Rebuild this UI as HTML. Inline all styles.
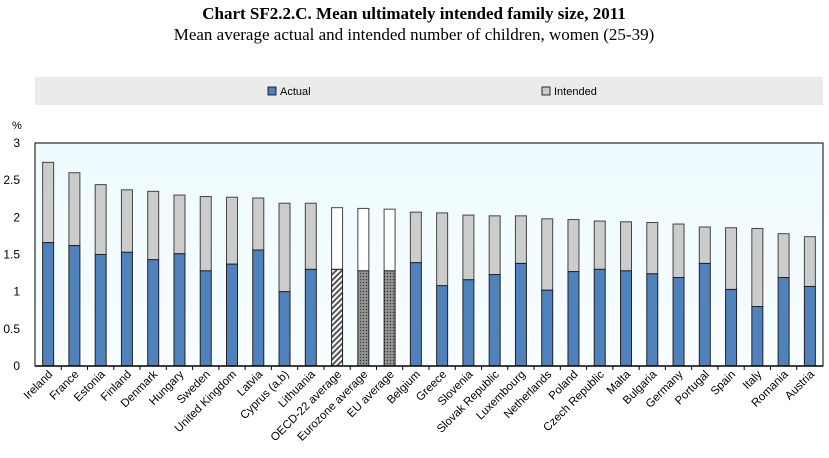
<!DOCTYPE html>
<html><head><meta charset="utf-8"><style>
body{margin:0;background:#fff;}
svg text{font-family:"Liberation Sans",Arial,sans-serif;}
</style></head><body>
<svg width="829" height="453" viewBox="0 0 829 453" xmlns="http://www.w3.org/2000/svg">
<defs>
<linearGradient id="bg" x1="0" y1="0" x2="0" y2="1"><stop offset="0" stop-color="#eefbff"/><stop offset="1" stop-color="#f8fdff"/></linearGradient>
<pattern id="hatch" width="4" height="4" patternUnits="userSpaceOnUse" patternTransform="rotate(45)"><rect width="4" height="4" fill="#fff"/><rect width="2" height="4" fill="#555"/></pattern>
<pattern id="dots" width="3" height="3" patternUnits="userSpaceOnUse"><rect width="3" height="3" fill="#888"/><rect width="1" height="1" fill="#333"/><rect x="1.5" y="1.5" width="1" height="1" fill="#bbb"/></pattern>
</defs>
<text x="414" y="19" text-anchor="middle" font-family="Liberation Serif,serif" style="font-family:'Liberation Serif',serif;font-weight:bold;font-size:17px">Chart SF2.2.C. Mean ultimately intended family size, 2011</text>
<text x="414" y="40" text-anchor="middle" style="font-family:'Liberation Serif',serif;font-size:17px">Mean average actual and intended number of children, women (25-39)</text>
<rect x="35" y="77" width="788" height="28" fill="#ebebeb"/>
<rect x="268" y="87" width="8" height="8" fill="#4f81bd" stroke="#000" stroke-width="0.8"/>
<text x="280" y="95" font-size="11">Actual</text>
<rect x="542" y="87" width="8" height="8" fill="#cccccc" stroke="#000" stroke-width="0.8"/>
<text x="554" y="95" font-size="11">Intended</text>
<text x="12" y="129" font-size="11">%</text>
<rect x="35" y="143" width="788" height="223" fill="url(#bg)" stroke="#000" stroke-width="1"/>
<g id="g"></g>
</svg>
<script>
const categories=["Ireland","France","Estonia","Finland","Denmark","Hungary","Sweden","United Kingdom","Latvia","Cyprus (a,b)","Lithuania","OECD-22 average","Eurozone average","EU average","Belgium","Greece","Slovenia","Slovak Republic","Luxembourg","Netherlands","Poland","Czech Republic","Malta","Bulgaria","Germany","Portugal","Spain","Italy","Romania","Austria"];
const actual=[1.66,1.62,1.50,1.53,1.43,1.51,1.28,1.37,1.56,1.00,1.30,1.30,1.28,1.28,1.39,1.08,1.16,1.23,1.38,1.02,1.27,1.30,1.28,1.24,1.19,1.38,1.03,0.80,1.19,1.07];
const intendedTotal=[2.74,2.60,2.44,2.37,2.35,2.30,2.28,2.27,2.26,2.19,2.19,2.13,2.12,2.11,2.07,2.06,2.03,2.02,2.02,1.98,1.97,1.95,1.94,1.93,1.91,1.87,1.86,1.85,1.78,1.74];
const yTicks=[0,0.5,1,1.5,2,2.5,3];
const yTickLabels=["0","0.5","1","1.5","2","2.5","3"];
const X0=35,X1=823,Y0=366,Y1=143,YMAX=3;
const NS="http://www.w3.org/2000/svg";
const g=document.getElementById('g');
const slot=(X1-X0)/categories.length;
function xc(i){return X0+slot*(i+0.5);}
function y(v){return Y0-(v/YMAX)*(Y0-Y1);}
function mk(t,a){const e=document.createElementNS(NS,t);for(const k in a)e.setAttribute(k,a[k]);g.appendChild(e);return e;}
yTicks.forEach((v,i)=>{
  const t=mk('text',{x:X0-15,y:y(v)+4,'text-anchor':'end','font-size':12,fill:'#000'});
  t.textContent=yTickLabels[i];
  
  
});
const bw=11;
categories.forEach((c,i)=>{
  const x=xc(i)-bw/2;
  const top=mk('rect',{x:x,y:y(intendedTotal[i]),width:bw,height:y(actual[i])-y(intendedTotal[i]),fill:i>=11&&i<=13?'#fff':'#cccccc',stroke:'#444','stroke-width':1});
  
  
  const fill=i===11?'url(#hatch)':(i===12||i===13)?'url(#dots)':'#4f81bd';
  const b=mk('rect',{x:x,y:y(actual[i]),width:bw,height:Y0-y(actual[i]),fill:fill,stroke:'#222','stroke-width':1});
  
  
  if(i>0){const tk=mk('line',{x1:X0+slot*i,x2:X0+slot*i,y1:Y0,y2:Y0+4,stroke:'#000'});
    
    }
  const lx=xc(i)+5,ly=Y0+9;
  const t=mk('text',{x:lx,y:ly,'text-anchor':'end','font-size':11.5,transform:`rotate(-45 ${lx} ${ly})`});
  t.textContent=c;
  
  
});
mk('line',{x1:X0,x2:X1,y1:Y0,y2:Y0,stroke:'#000','stroke-width':1.5});
</script>
</body></html>
